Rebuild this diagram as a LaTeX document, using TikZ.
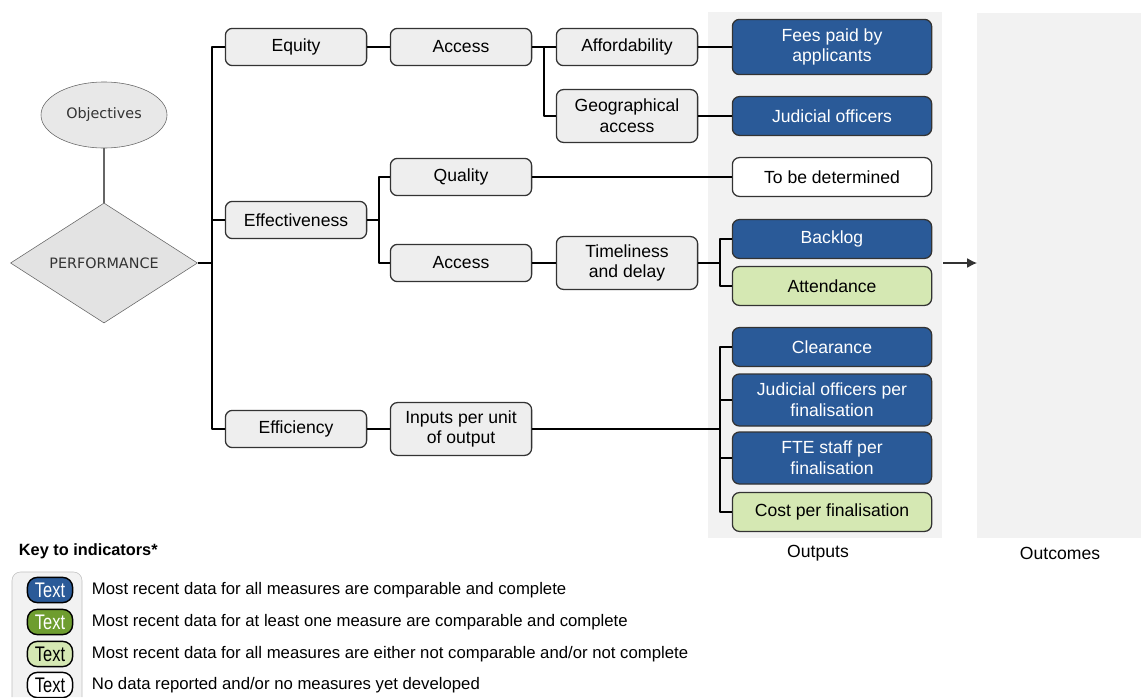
\documentclass[tikz,border=0pt]{standalone}
\usepackage{fontspec}
\usepackage{graphicx}
\setmainfont{Liberation Sans}
\newfontfamily\myshapefont{DejaVu Sans}
\usetikzlibrary{arrows,arrows.meta,positioning,shapes.geometric}
\definecolor{myblue}{HTML}{2A5A98}
\definecolor{mygreen}{HTML}{6E9D2F}
\definecolor{mylight}{HTML}{D5E8B3}
\definecolor{mygrey}{HTML}{EEEEEE}
\definecolor{mypanel}{HTML}{F2F2F2}
\definecolor{myedge}{HTML}{333333}
\newcommand \mykeyrow[4]
{
\node[chip,#2] (k#1) at (50,#3) {\scalebox{0.78}[1]{Text}};
\node[anchor=west,font=\fontsize{11.9}{13}\selectfont] (t#1) at (87,#3) {#4};
}

\begin{document}
\begin{tikzpicture}[x=0.025cm, y=-0.025cm, line join=round,
  box/.style={draw=myedge, line width=0.9pt, rounded corners=5pt, fill=mygrey,
    minimum width=3.53cm, minimum height=0.93cm, align=center, inner sep=1pt,
    font=\fontsize{12.5}{14.8}\selectfont},
  tallbox/.style={minimum height=1.32cm},
  outbox/.style={box, minimum width=4.98cm, minimum height=0.97cm},
  bluebox/.style={fill=myblue, text=white},
  lightbox/.style={fill=mylight},
  emptybox/.style={fill=white},
  chip/.style={draw=black, line width=1pt, rounded corners=7pt, minimum width=1.13cm,
    minimum height=0.63cm, inner sep=0pt, font=\fontsize{15}{15}\selectfont},
  link/.style={draw=black, line width=0.8pt}]
\useasboundingbox (0,0) rectangle (1141,697);
% panels
\fill[mypanel] (708,12) rectangle (942,538);
\fill[mypanel] (977,13) rectangle (1141,538);
\node[font=\fontsize{12.5}{14}\selectfont] (outputs)  at (818,553) {Outputs};
\node[font=\fontsize{12.5}{14}\selectfont] (outcomes) at (1060,553) {Outcomes};
% objectives and performance
\node[ellipse, draw=gray!80!black, fill=gray!18, minimum width=3.15cm, minimum height=1.65cm,
  inner sep=0pt, text=myedge, font=\myshapefont\fontsize{10.2}{12}\selectfont] (obj) at (104,115) {Objectives};
\node[diamond, draw=gray!80!black, fill=gray!22, minimum width=4.675cm, minimum height=2.225cm,
  inner sep=0pt, text=myedge, font=\myshapefont\fontsize{10.2}{12}\selectfont] (perf) at (104,263) {PERFORMANCE};
% first column
\node[box] (equity) at (296,47)  {Equity};
\node[box] (effect) at (296,220) {Effectiveness};
\node[box] (effic)  at (296,429) {Efficiency};
% second column
\node[box]         (access)  at (461,47)  {Access};
\node[box]         (quality) at (461,177) {Quality};
\node[box]         (access2) at (461,263) {Access};
\node[box,tallbox] (inputs)  at (461,429) {Inputs per unit\\of output};
% third column
\node[box]         (afford) at (627,47)  {Affordability};
\node[box,tallbox] (geo)    at (627,116) {Geographical\\access};
\node[box,tallbox] (timely) at (627,263) {Timeliness\\and delay};
% outputs
\node[outbox,bluebox,minimum height=1.38cm] (fees) at (832,47) {Fees paid by\\applicants};
\node[outbox,bluebox]  (judic)   at (832,116) {Judicial officers};
\node[outbox,emptybox] (tbd)     at (832,177) {To be determined};
\node[outbox,bluebox]  (backlog) at (832,239) {Backlog};
\node[outbox,lightbox] (attend)  at (832,286) {Attendance};
\node[outbox,bluebox]  (clear)   at (832,347) {Clearance};
\node[outbox,bluebox,minimum height=1.3cm] (jopf) at (832,400) {Judicial officers per\\finalisation};
\node[outbox,bluebox,minimum height=1.3cm] (fte)  at (832,458) {FTE staff per\\finalisation};
\node[outbox,lightbox] (cost)    at (832,512) {Cost per finalisation};
% branch points
\coordinate (b0) at (212,263);
\coordinate (b1) at (379,220);
\coordinate (b2) at (544,47);
\coordinate (b3) at (720,263);
\coordinate (b4) at (720,429);
\coordinate (a1) at (943,263);
\coordinate (a2) at (977,263);
\draw[draw=gray!80!black, line width=0.9pt] (obj.south)--(perf.north);
\draw[link] (perf.east)--(b0);
\draw[link] (b0) |- (equity.west);
\draw[link] (b0) |- (effect.west);
\draw[link] (b0) |- (effic.west);
\draw[link] (equity.east)--(access.west);
\draw[link] (access.east)--(afford.west);
\draw[link] (b2) |- (geo.west);
\draw[link] (afford.east)--(fees.west);
\draw[link] (geo.east)--(judic.west);
\draw[link] (effect.east)--(b1);
\draw[link] (b1) |- (quality.west);
\draw[link] (b1) |- (access2.west);
\draw[link] (quality.east)--(tbd.west);
\draw[link] (access2.east)--(timely.west);
\draw[link] (timely.east)--(b3);
\draw[link] (b3) |- (backlog.west);
\draw[link] (b3) |- (attend.west);
\draw[link] (effic.east)--(inputs.west);
\draw[link] (inputs.east)--(b4);
\draw[link] (b4) |- (clear.west);
\draw[link] (b4) |- (jopf.west);
\draw[link] (b4) |- (fte.west);
\draw[link] (b4) |- (cost.west);
\draw[-{Latex[length=7pt,width=7pt]}, draw=myedge, line width=0.8pt] (a1)--(a2);
% key
\node[anchor=west, font=\bfseries\fontsize{11.6}{13}\selectfont] (keytitle) at (14,551) {Key to indicators*};
\filldraw[fill=mypanel, draw=gray!50, rounded corners=6pt] (12,697)--(12,572)--(82,572)--(82,697);
\mykeyrow{1}{fill=myblue,text=white}{590}{Most recent data for all measures are comparable and complete}
\mykeyrow{2}{fill=mygreen,text=white}{622}{Most recent data for at least one measure are comparable and complete}
\mykeyrow{3}{fill=mylight}{654}{Most recent data for all measures are either not comparable and/or not complete}
\mykeyrow{4}{fill=white}{685}{No data reported and/or no measures yet developed}
\end{tikzpicture}
\end{document}
